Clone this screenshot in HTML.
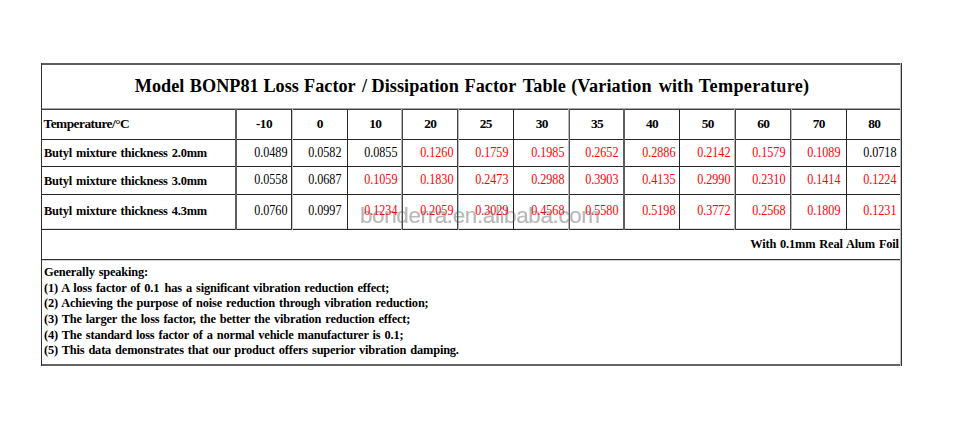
<!DOCTYPE html>
<html><head><meta charset="utf-8"><style>
html,body{margin:0;padding:0;background:#fff;width:960px;height:429px;overflow:hidden;position:relative}
.l{position:absolute}
.t{position:absolute;font-family:"Liberation Serif",serif;white-space:nowrap;color:#000;line-height:1;font-size:13.33px;letter-spacing:-0.5px}
.b{font-weight:bold}
.r{color:#f00}
.c{text-align:center}
.rt{text-align:right}
.dg{font-size:13.65px;letter-spacing:0px;transform:scaleX(0.89);transform-origin:100% 50%}
.nt{letter-spacing:-0.2px;word-spacing:1.2px;transform:scaleX(0.93);transform-origin:0 50%}
.ntr{transform-origin:100% 50%}
</style></head><body>

<div class="l" style="left:41px;top:63px;width:861px;height:1px;background:#5e5e5e"></div>
<div class="l" style="left:41px;top:64px;width:861px;height:1px;background:#5e5e5e"></div>
<div class="l" style="left:41px;top:108px;width:861px;height:1px;background:#a8a8a8"></div>
<div class="l" style="left:41px;top:109px;width:861px;height:1px;background:#404040"></div>
<div class="l" style="left:41px;top:139px;width:861px;height:1px;background:#282828"></div>
<div class="l" style="left:41px;top:166px;width:861px;height:1px;background:#242424"></div>
<div class="l" style="left:41px;top:194px;width:861px;height:1px;background:#242424"></div>
<div class="l" style="left:41px;top:228px;width:861px;height:1px;background:#e0e0e0"></div>
<div class="l" style="left:41px;top:229px;width:861px;height:1px;background:#2a2a2a"></div>
<div class="l" style="left:41px;top:259px;width:861px;height:1px;background:#333333"></div>
<div class="l" style="left:41px;top:260px;width:861px;height:1px;background:#d0d0d0"></div>
<div class="l" style="left:41px;top:364px;width:861px;height:1px;background:#646464"></div>
<div class="l" style="left:41px;top:365px;width:861px;height:1px;background:#646464"></div>
<div class="l" style="left:41px;top:63px;width:1px;height:303px;background:#333333"></div>
<div class="l" style="left:235px;top:109px;width:1px;height:121px;background:#5e5e5e"></div>
<div class="l" style="left:236px;top:109px;width:1px;height:121px;background:#5e5e5e"></div>
<div class="l" style="left:291px;top:109px;width:1px;height:121px;background:#303030"></div>
<div class="l" style="left:292px;top:109px;width:1px;height:121px;background:#c8c8c8"></div>
<div class="l" style="left:347px;top:109px;width:1px;height:121px;background:#2a2a2a"></div>
<div class="l" style="left:401px;top:109px;width:1px;height:121px;background:#b0b0b0"></div>
<div class="l" style="left:402px;top:109px;width:1px;height:121px;background:#484848"></div>
<div class="l" style="left:457px;top:109px;width:1px;height:121px;background:#444444"></div>
<div class="l" style="left:458px;top:109px;width:1px;height:121px;background:#b8b8b8"></div>
<div class="l" style="left:513px;top:109px;width:1px;height:121px;background:#242424"></div>
<div class="l" style="left:568px;top:109px;width:1px;height:121px;background:#b8b8b8"></div>
<div class="l" style="left:569px;top:109px;width:1px;height:121px;background:#555555"></div>
<div class="l" style="left:623px;top:109px;width:1px;height:121px;background:#5e5e5e"></div>
<div class="l" style="left:624px;top:109px;width:1px;height:121px;background:#5e5e5e"></div>
<div class="l" style="left:679px;top:109px;width:1px;height:121px;background:#262626"></div>
<div class="l" style="left:734px;top:109px;width:1px;height:121px;background:#b0b0b0"></div>
<div class="l" style="left:735px;top:109px;width:1px;height:121px;background:#444444"></div>
<div class="l" style="left:790px;top:109px;width:1px;height:121px;background:#4a4a4a"></div>
<div class="l" style="left:791px;top:109px;width:1px;height:121px;background:#b8b8b8"></div>
<div class="l" style="left:846px;top:109px;width:1px;height:121px;background:#242424"></div>
<div class="l" style="left:900px;top:63px;width:1px;height:303px;background:#c0c0c0"></div>
<div class="l" style="left:901px;top:63px;width:1px;height:303px;background:#333333"></div>
<div class="t b" style="left:134.78px;top:77.36px;font-size:18.2px;letter-spacing:0.03px">Model</div>
<div class="t b" style="left:189.82px;top:77.36px;font-size:18.2px;letter-spacing:0.03px">BONP81</div>
<div class="t b" style="left:263.41px;top:77.36px;font-size:18.2px;letter-spacing:0.03px">Loss</div>
<div class="t b" style="left:304.06px;top:77.36px;font-size:18.2px;letter-spacing:0.03px">Factor</div>
<div class="t b" style="left:362.03px;top:77.36px;font-size:18.2px;letter-spacing:0.03px">/</div>
<div class="t b" style="left:371.62px;top:77.36px;font-size:18.2px;letter-spacing:0.03px">Dissipation</div>
<div class="t b" style="left:464.58px;top:77.36px;font-size:18.2px;letter-spacing:0.03px">Factor</div>
<div class="t b" style="left:522.80px;top:77.36px;font-size:18.2px;letter-spacing:0.03px">Table</div>
<div class="t b" style="left:571.18px;top:77.36px;font-size:18.2px;letter-spacing:0.13px">(Variation</div>
<div class="t b" style="left:658.86px;top:77.36px;font-size:18.2px;letter-spacing:0.03px">with</div>
<div class="t b" style="left:698.81px;top:77.36px;font-size:18.2px;letter-spacing:0.3px">Temperature)</div>
<div class="t b" style="left:43.5px;top:117.14px">Temperature/°C</div>
<div class="t b c" style="left:236.30px;width:55.5px;top:117.14px">-10</div>
<div class="t b c" style="left:291.80px;width:56px;top:117.14px">0</div>
<div class="t b c" style="left:347.80px;width:55px;top:117.14px">10</div>
<div class="t b c" style="left:402.80px;width:55px;top:117.14px">20</div>
<div class="t b c" style="left:457.80px;width:56px;top:117.14px">25</div>
<div class="t b c" style="left:513.80px;width:56px;top:117.14px">30</div>
<div class="t b c" style="left:569.80px;width:54.5px;top:117.14px">35</div>
<div class="t b c" style="left:624.30px;width:55.5px;top:117.14px">40</div>
<div class="t b c" style="left:679.80px;width:56px;top:117.14px">50</div>
<div class="t b c" style="left:735.80px;width:55px;top:117.14px">60</div>
<div class="t b c" style="left:790.80px;width:56px;top:117.14px">70</div>
<div class="t b c" style="left:846.80px;width:55px;top:117.14px">80</div>
<div class="t b nt" style="left:43.5px;top:146.14px">Butyl mixture thickness 2.0mm</div>
<div class="t rt dg" style="right:672.80px;top:145.87px">0.0489</div>
<div class="t rt dg" style="right:618.00px;top:145.87px">0.0582</div>
<div class="t rt dg" style="right:562.50px;top:145.87px">0.0855</div>
<div class="t rt dg r" style="right:506.80px;top:145.87px">0.1260</div>
<div class="t rt dg r" style="right:451.30px;top:145.87px">0.1759</div>
<div class="t rt dg r" style="right:395.30px;top:145.87px">0.1985</div>
<div class="t rt dg r" style="right:341.00px;top:145.87px">0.2652</div>
<div class="t rt dg r" style="right:284.80px;top:145.87px">0.2886</div>
<div class="t rt dg r" style="right:229.30px;top:145.87px">0.2142</div>
<div class="t rt dg r" style="right:174.30px;top:145.87px">0.1579</div>
<div class="t rt dg r" style="right:119.40px;top:145.87px">0.1089</div>
<div class="t rt dg" style="right:63.30px;top:145.87px">0.0718</div>
<div class="t b nt" style="left:43.5px;top:173.64px">Butyl mixture thickness 3.0mm</div>
<div class="t rt dg" style="right:672.80px;top:173.37px">0.0558</div>
<div class="t rt dg" style="right:618.00px;top:173.37px">0.0687</div>
<div class="t rt dg r" style="right:562.50px;top:173.37px">0.1059</div>
<div class="t rt dg r" style="right:506.80px;top:173.37px">0.1830</div>
<div class="t rt dg r" style="right:451.30px;top:173.37px">0.2473</div>
<div class="t rt dg r" style="right:395.30px;top:173.37px">0.2988</div>
<div class="t rt dg r" style="right:341.00px;top:173.37px">0.3903</div>
<div class="t rt dg r" style="right:284.80px;top:173.37px">0.4135</div>
<div class="t rt dg r" style="right:229.30px;top:173.37px">0.2990</div>
<div class="t rt dg r" style="right:174.30px;top:173.37px">0.2310</div>
<div class="t rt dg r" style="right:119.40px;top:173.37px">0.1414</div>
<div class="t rt dg r" style="right:63.30px;top:173.37px">0.1224</div>
<div class="t b nt" style="left:43.5px;top:204.44px">Butyl mixture thickness 4.3mm</div>
<div class="t rt dg" style="right:672.80px;top:204.17px">0.0760</div>
<div class="t rt dg" style="right:618.00px;top:204.17px">0.0997</div>
<div class="t rt dg r" style="right:562.50px;top:204.17px">0.1234</div>
<div class="t rt dg r" style="right:506.80px;top:204.17px">0.2059</div>
<div class="t rt dg r" style="right:451.30px;top:204.17px">0.3029</div>
<div class="t rt dg r" style="right:395.30px;top:204.17px">0.4568</div>
<div class="t rt dg r" style="right:341.00px;top:204.17px">0.5580</div>
<div class="t rt dg r" style="right:284.80px;top:204.17px">0.5198</div>
<div class="t rt dg r" style="right:229.30px;top:204.17px">0.3772</div>
<div class="t rt dg r" style="right:174.30px;top:204.17px">0.2568</div>
<div class="t rt dg r" style="right:119.40px;top:204.17px">0.1809</div>
<div class="t rt dg r" style="right:63.30px;top:204.17px">0.1231</div>
<div class="t b nt ntr" style="right:60.700000000000045px;top:236.74px">With 0.1mm Real Alum Foil</div>
<div class="t b nt" style="left:43.5px;top:265.44px;white-space:pre">Generally speaking:</div>
<div class="t b nt" style="left:43.5px;top:280.96px;white-space:pre">(1) A loss factor of 0.1 <span style='margin-left:1.5px'></span>has a significant vibration reduction effect;</div>
<div class="t b nt" style="left:43.5px;top:296.48px;white-space:pre">(2) Achieving the purpose of noise reduction through vibration reduction;</div>
<div class="t b nt" style="left:43.5px;top:312.00px;white-space:pre">(3) The larger the loss factor, the better the vibration reduction effect;</div>
<div class="t b nt" style="left:43.5px;top:327.52px;white-space:pre">(4) The standard loss factor of a normal vehicle manufacturer is 0.1;</div>
<div class="t b nt" style="left:43.5px;top:343.04px;white-space:pre">(5) This data demonstrates that our product offers superior vibration damping.</div>
<div style="position:absolute;left:360.1px;top:205.45px;font-family:'Liberation Sans',sans-serif;font-size:22.5px;letter-spacing:-0.4px;color:#585858;-webkit-text-stroke:0.2px #505050;opacity:0.42;will-change:transform;white-space:nowrap;line-height:1">bonderra.en.alibaba.com</div>
</body></html>
